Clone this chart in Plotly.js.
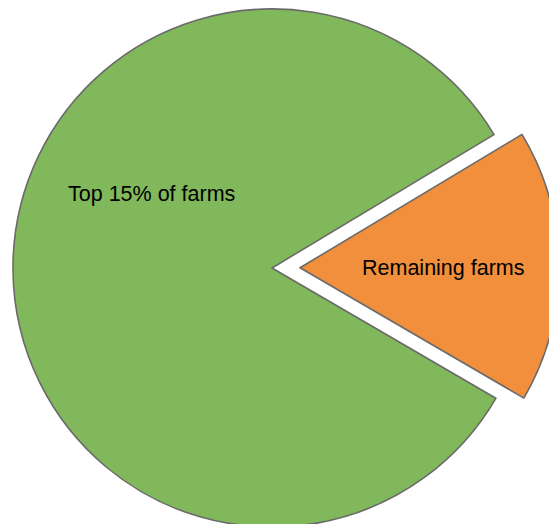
<!DOCTYPE html>
<html>
<head>
<meta charset="utf-8">
<script src="https://cdn.plot.ly/plotly-3.0.1.min.js"></script>
<style>
  html, body { margin:0; padding:0; width:549px; height:524px; overflow:hidden; background:#fff; }
  #chart { position:absolute; left:-15px; top:-19px; width:574px; height:574px; }
</style>
</head>
<body>
<div id="chart"></div>
<script>
const labels = ["Remaining farms", "Top 15% of farms"];
const values = [17, 83];
const colors = ["#f28f3c", "#80b85b"];
const pulls = [0.108, 0];

const W = 574, H = 574;
// label anchor positions inside the div (pixels)
const labelPos = [[458.3, 286.5], [166, 213]];

const trace = {
  type: "pie",
  labels: labels,
  values: values,
  sort: false,
  direction: "clockwise",
  rotation: 59,
  pull: pulls,
  marker: { colors: colors, line: { color: "#6a6a6a", width: 1.6 } },
  textinfo: "none",
  hoverinfo: "label+percent",
  showlegend: false,
  domain: { x: [0, 1], y: [0, 1] }
};

const layout = {
  width: W, height: H,
  margin: { l: 0, r: 0, t: 0, b: 0, pad: 0 },
  paper_bgcolor: "rgba(0,0,0,0)",
  showlegend: false,
  annotations: labels.map((lab, i) => ({
    text: lab,
    xref: "paper", yref: "paper",
    x: labelPos[i][0] / W, y: 1 - labelPos[i][1] / H,
    xanchor: "center", yanchor: "middle",
    showarrow: false,
    font: { family: "Liberation Sans, Arial, sans-serif", size: 21.5, color: "#000" }
  }))
};

Plotly.newPlot("chart", [trace], layout, { displayModeBar: false, staticPlot: true });
</script>
</body>
</html>
